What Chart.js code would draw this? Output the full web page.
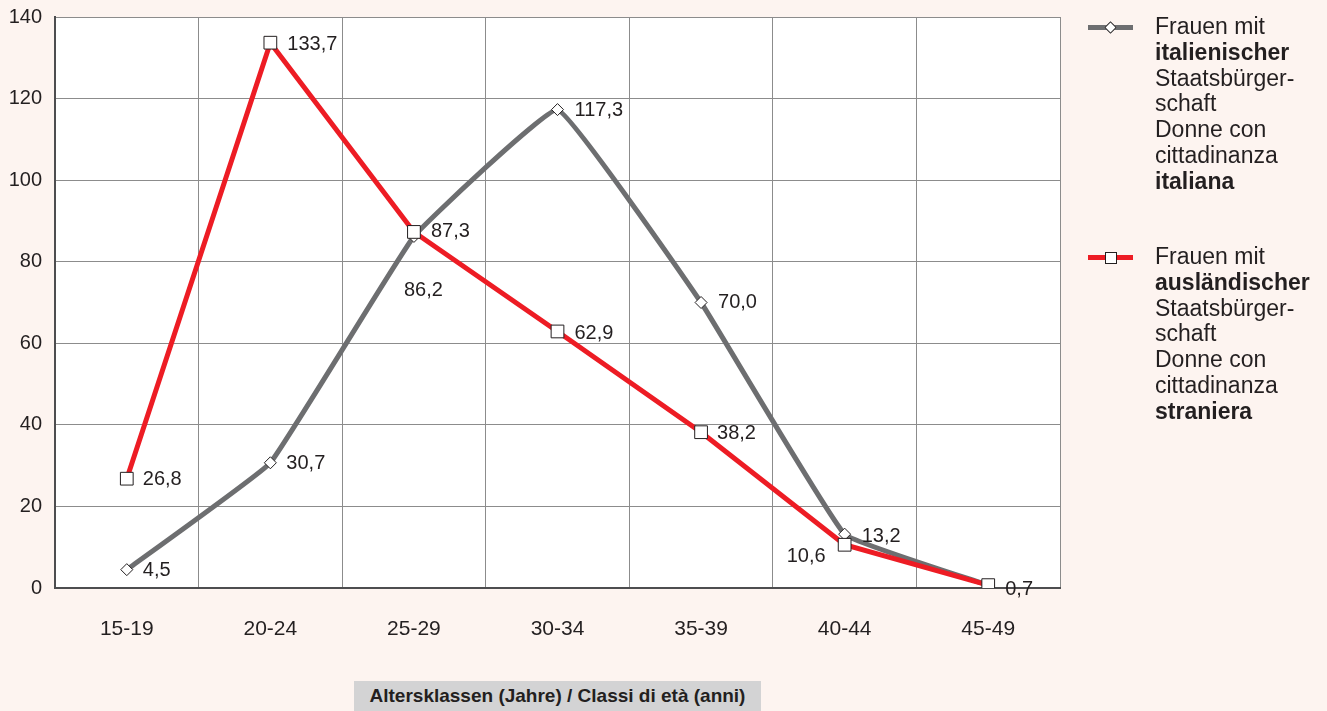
<!DOCTYPE html>
<html>
<head>
<meta charset="utf-8">
<script src="https://cdn.jsdelivr.net/npm/chart.js@4.4.1/dist/chart.umd.min.js"></script>
<style>
  html, body { margin: 0; padding: 0; background: #fdf4f0; }
  #wrap { position: relative; width: 1327px; height: 711px; overflow: hidden; font-family: "Liberation Sans", Arial, sans-serif; }
  #c { position: absolute; left: 0; top: 0; }
  .leg { position: absolute; left: 1155px; font-size: 23px; line-height: 25.8px; color: #231f20; white-space: nowrap; }
  .mk { position: absolute; left: 1088px; width: 45px; height: 5px; }
  .mk .sym { position: absolute; left: 50%; top: 50%; background: #fff; border: 1px solid #231f20; box-sizing: border-box; }
  #xtitle { position: absolute; left: 354px; top: 681px; width: 407px; height: 30px; background: #d3d3d4; font-weight: bold; font-size: 19px; line-height: 30px; text-align: center; color: #231f20; white-space: nowrap; }
</style>
</head>
<body>
<div id="wrap">
  <canvas id="c" width="1327" height="711"></canvas>
  <div class="mk" style="top:25px;background:#6d6e70;"><div class="sym" style="width:9px;height:9px;margin:-4.5px 0 0 -4.5px;transform:rotate(45deg);"></div></div>
  <div class="leg" style="top:14px;">Frauen mit<br><b>italienischer</b><br>Staatsbürger-<br>schaft<br>Donne con<br>cittadinanza<br><b>italiana</b></div>
  <div class="mk" style="top:255px;background:#ed1c24;"><div class="sym" style="width:12px;height:12px;margin:-6px 0 0 -6px;"></div></div>
  <div class="leg" style="top:244px;">Frauen mit<br><b>ausländischer</b><br>Staatsbürger-<br>schaft<br>Donne con<br>cittadinanza<br><b>straniera</b></div>
  <div id="xtitle">Altersklassen (Jahre) / Classi di età (anni)</div>
</div>
<script>
const categories = ["15-19", "20-24", "25-29", "30-34", "35-39", "40-44", "45-49"];
const italianValues = [4.5, 30.7, 86.2, 117.3, 70.0, 13.2, 0.7];
const foreignValues = [26.8, 133.7, 87.3, 62.9, 38.2, 10.6, 0.7];
const yTicks = [0, 20, 40, 60, 80, 100, 120, 140];
const italianLabel = "Frauen mit italienischer Staatsbürgerschaft / Donne con cittadinanza italiana";
const foreignLabel = "Frauen mit ausländischer Staatsbürgerschaft / Donne con cittadinanza straniera";

const FONT = '"Liberation Sans", Arial, sans-serif';
const fmt = v => v.toFixed(1).replace('.', ',');

// label placement per point: [dx, dy, align] ; null = no label
const labelPlacement = {
  0: [[16,1,'left'],[17,2,'left'],[17,0,'left'],[17,2,'left'],[16,1,'left'],[-19,12,'right'],null],
  1: [[16,1,'left'],[16,1,'left'],[-10,54,'left'],[17,1,'left'],[17,0,'left'],[17,2,'left'],[17,4,'left']]
};

const bgPlugin = {
  id: 'plotBg',
  beforeDraw(chart) {
    const {ctx, chartArea: a} = chart;
    ctx.save();
    ctx.fillStyle = '#ffffff';
    ctx.fillRect(a.left, a.top, a.right - a.left, a.bottom - a.top);
    ctx.restore();
  }
};

const labelPlugin = {
  id: 'valueLabels',
  afterDatasetsDraw(chart) {
    const ctx = chart.ctx;
    ctx.save();
    ctx.font = '20px ' + FONT;
    ctx.fillStyle = '#231f20';
    ctx.textBaseline = 'middle';
    chart.data.datasets.forEach((ds, di) => {
      const meta = chart.getDatasetMeta(di);
      meta.data.forEach((pt, i) => {
        const p = labelPlacement[di][i];
        if (!p) return;
        ctx.textAlign = p[2];
        ctx.fillText(fmt(ds.data[i]), pt.x + p[0], pt.y + p[1]);
      });
    });
    ctx.restore();
  }
};

new Chart(document.getElementById('c'), {
  type: 'line',
  data: {
    labels: categories,
    datasets: [
      {
        label: foreignLabel,
        data: foreignValues,
        borderColor: '#ed1c24',
        borderWidth: 5,
        tension: 0,
        pointStyle: 'rect',
        pointRadius: 9,
        pointBackgroundColor: '#ffffff',
        pointBorderColor: '#231f20',
        pointBorderWidth: 1,
        order: 1
      },
      {
        label: italianLabel,
        data: italianValues,
        borderColor: '#6d6e70',
        borderWidth: 5,
        tension: 0.08,
        pointStyle: 'rectRot',
        pointRadius: 6,
        pointBackgroundColor: '#ffffff',
        pointBorderColor: '#231f20',
        pointBorderWidth: 1,
        order: 2
      }
    ]
  },
  options: {
    responsive: false,
    animation: false,
    devicePixelRatio: 1,
    layout: { padding: { top: 17, right: 267, bottom: 0, left: 0 } },
    plugins: { legend: { display: false }, tooltip: { enabled: false } },
    scales: {
      x: {
        offset: true,
        grid: { offset: true, color: '#8c8c8c', lineWidth: 1, drawTicks: false },
        border: { color: '#4d4d4f', width: 2 },
        ticks: { font: { family: FONT, size: 21 }, color: '#231f20', padding: 29 },
        afterFit(s) { s.height = 123; s.paddingLeft = 0; s.paddingRight = 0; }
      },
      y: {
        min: 0, max: 140,
        afterBuildTicks(s) { s.ticks = yTicks.map(v => ({ value: v })); },
        grid: { color: '#8c8c8c', lineWidth: 1, drawTicks: false },
        border: { color: '#4d4d4f', width: 2 },
        ticks: { font: { family: FONT, size: 20 }, color: '#231f20', padding: 13 },
        afterFit(s) { s.width = 55; s.paddingTop = 0; s.paddingBottom = 0; }
      }
    }
  },
  plugins: [bgPlugin, labelPlugin]
});
</script>
</body>
</html>
